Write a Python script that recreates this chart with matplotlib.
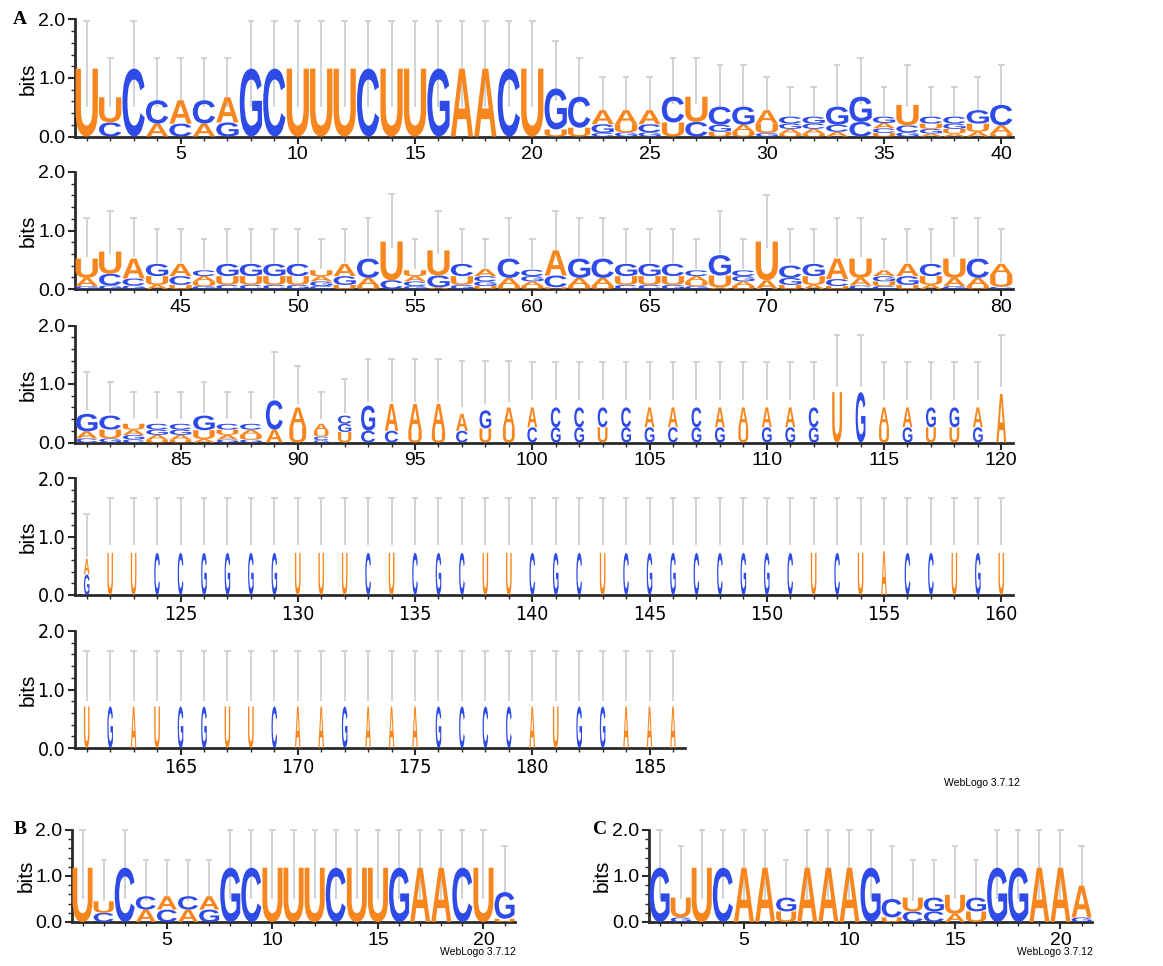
import matplotlib
matplotlib.use("Agg")
import matplotlib.pyplot as plt
from matplotlib.textpath import TextPath
from matplotlib.patches import PathPatch
from matplotlib.font_manager import FontProperties, fontManager
from matplotlib.transforms import Affine2D

# ---------------- data (letters bottom -> top, heights in bits) ----------------
row1_letters = ["U", "CU", "C", "AC", "CA", "AC", "GA", "G", "C", "U", "U", "U", "C", "U", "U", "G", "A", "A", "C", "U",
                "UG", "UC", "CGA", "GUA", "GCA", "UC", "CU", "UGC", "UAG", "GUA", "UAGC", "UACG", "ACG", "CG", "UCAG",
                "GCU", "AGUC", "AUGC", "AUG", "UAC"]
row1_heights = [[1.16], [0.24, 0.43], [1.16], [0.22, 0.40], [0.22, 0.40], [0.22, 0.40], [0.24, 0.43], [1.16], [1.16],
                [1.16], [1.16], [1.16], [1.16], [1.16], [1.16], [1.16], [1.16], [1.16], [1.16], [1.16],
                [0.12, 0.70], [0.15, 0.53], [0.06, 0.15, 0.24], [0.07, 0.14, 0.24], [0.07, 0.14, 0.24], [0.24, 0.44],
                [0.25, 0.43], [0.08, 0.12, 0.31], [0.08, 0.12, 0.31], [0.06, 0.16, 0.23], [0.05, 0.08, 0.09, 0.12],
                [0.05, 0.08, 0.09, 0.12], [0.08, 0.12, 0.31], [0.25, 0.43], [0.06, 0.08, 0.09, 0.11], [0.07, 0.12, 0.35],
                [0.05, 0.08, 0.09, 0.12], [0.05, 0.08, 0.09, 0.12], [0.08, 0.14, 0.23], [0.05, 0.14, 0.35]]
row1_hi = [1.98, 1.34, 1.98, 1.34, 1.34, 1.34, 1.34, 1.98, 1.98, 1.98, 1.98, 1.98, 1.98, 1.98, 1.98, 1.98, 1.98, 1.98,
           1.98, 1.98, 1.63, 1.34, 1.02, 1.02, 1.02, 1.35, 1.35, 1.22, 1.22, 1.02, 0.85, 0.85, 1.22, 1.35, 0.85, 1.22,
           0.85, 0.85, 1.02, 1.22]
row1_lo = [0.5, 0.5, 0.5, 0.5, 0.5, 0.5, 0.5, 0.5, 0.5, 0.5, 0.5, 0.5, 0.5, 0.5, 0.5, 0.5, 0.5, 0.5, 0.5, 0.5,
           0.6, 0.55, 0.4, 0.4, 0.4, 0.55, 0.55, 0.5, 0.5, 0.4, 0.35, 0.35, 0.5, 0.55, 0.35, 0.5, 0.35, 0.35, 0.4, 0.5]

row2_letters = ["GAU", "GCU", "GCA", "AUG", "UCA", "GUAC", "CUG", "CUG", "CUG", "GUC", "CGAU", "UGA", "UAC", "CU",
                "GCAU", "AGU", "GUC", "UGCA", "UAC", "UAGC", "UCA", "UAG", "UAC", "CUG", "CUG", "GUC", "GUAC", "AUG",
                "UAGC", "AU", "UGC", "AUG", "UCA", "CAU", "CUGA", "UGA", "AUC", "GAU", "UAC", "CUA"]
row2_heights = [[0.05, 0.14, 0.33], [0.06, 0.20, 0.38], [0.06, 0.12, 0.34], [0.07, 0.15, 0.21], [0.07, 0.15, 0.21],
                [0.05, 0.08, 0.09, 0.10], [0.07, 0.15, 0.21], [0.07, 0.15, 0.21], [0.07, 0.15, 0.21], [0.07, 0.15, 0.21],
                [0.05, 0.08, 0.09, 0.10], [0.07, 0.15, 0.21], [0.05, 0.14, 0.33], [0.15, 0.66], [0.05, 0.08, 0.09, 0.10],
                [0.03, 0.20, 0.43], [0.07, 0.15, 0.21], [0.05, 0.08, 0.09, 0.12], [0.05, 0.14, 0.33],
                [0.05, 0.08, 0.09, 0.11], [0.03, 0.20, 0.43], [0.05, 0.14, 0.33], [0.05, 0.14, 0.33], [0.07, 0.15, 0.21],
                [0.07, 0.15, 0.21], [0.07, 0.15, 0.21], [0.05, 0.08, 0.09, 0.10], [0.03, 0.20, 0.35],
                [0.05, 0.08, 0.09, 0.10], [0.15, 0.66], [0.07, 0.12, 0.21], [0.07, 0.15, 0.21], [0.05, 0.12, 0.35],
                [0.06, 0.13, 0.33], [0.05, 0.08, 0.09, 0.10], [0.07, 0.15, 0.21], [0.07, 0.15, 0.21], [0.05, 0.14, 0.33],
                [0.05, 0.14, 0.33], [0.04, 0.20, 0.19]]
row2_hi = [1.21, 1.34, 1.21, 1.03, 1.03, 0.85, 1.03, 1.03, 1.03, 1.03, 0.85, 1.03, 1.21, 1.62, 0.85, 1.34, 1.03, 0.85,
           1.21, 0.85, 1.34, 1.21, 1.21, 1.03, 1.03, 1.03, 0.85, 1.34, 0.85, 1.60, 1.03, 1.03, 1.21, 1.21, 0.85, 1.03,
           1.03, 1.21, 1.21, 1.03]
row2_lo = [0.55, 0.6, 0.55, 0.45, 0.45, 0.35, 0.45, 0.45, 0.45, 0.45, 0.35, 0.45, 0.55, 0.7, 0.35, 0.6, 0.45, 0.35,
           0.55, 0.35, 0.6, 0.55, 0.55, 0.45, 0.45, 0.45, 0.35, 0.6, 0.35, 0.7, 0.45, 0.45, 0.55, 0.55, 0.35, 0.45,
           0.45, 0.55, 0.55, 0.45]

row3_letters = ["CAG", "GUC", "CGAU", "UAGC", "UAGC", "AUG", "GAUC", "GUAC", "AC", "UA", "GCUA", "UGC", "CG", "CA",
                "UA", "UA", "CA", "UG", "UA", "CA", "GC", "GC", "UC", "GC", "GA", "CA", "GC", "GA", "UA", "GA", "GA",
                "GC", "U", "G", "UA", "GA", "UG", "UG", "GA", "A"]
row3_heights = [[0.07, 0.12, 0.30], [0.07, 0.15, 0.24], [0.05, 0.08, 0.09, 0.10], [0.05, 0.08, 0.09, 0.10],
                [0.05, 0.08, 0.09, 0.10], [0.06, 0.15, 0.25], [0.05, 0.08, 0.09, 0.10], [0.05, 0.08, 0.09, 0.10],
                [0.22, 0.50], [0.26, 0.34], [0.04, 0.06, 0.10, 0.12], [0.18, 0.14, 0.14], [0.20, 0.43], [0.20, 0.46],
                [0.20, 0.46], [0.20, 0.46], [0.20, 0.29], [0.24, 0.31], [0.26, 0.34], [0.26, 0.34], [0.26, 0.34],
                [0.26, 0.34], [0.26, 0.34], [0.26, 0.34], [0.26, 0.34], [0.26, 0.34], [0.26, 0.34], [0.26, 0.34],
                [0.26, 0.34], [0.26, 0.34], [0.26, 0.34], [0.26, 0.34], [0.86], [0.86], [0.26, 0.34], [0.26, 0.34],
                [0.26, 0.34], [0.26, 0.34], [0.26, 0.34], [0.83]]
row3_width = [0.92, 0.92, 0.92, 0.92, 0.92, 0.92, 0.92, 0.92, 0.72, 0.72, 0.62, 0.57, 0.6, 0.57, 0.57, 0.57, 0.5, 0.5,
              0.5, 0.42, 0.42, 0.42, 0.42, 0.42, 0.42, 0.42, 0.42, 0.42, 0.42, 0.42, 0.42, 0.42, 0.42, 0.42, 0.42,
              0.42, 0.42, 0.42, 0.42, 0.42]
row3_hi = [1.21, 1.03, 0.86, 0.86, 0.86, 1.03, 0.86, 0.86, 1.54, 1.31, 0.86, 1.08, 1.43, 1.43, 1.43, 1.43, 1.39, 1.39,
           1.39, 1.37, 1.37, 1.37, 1.37, 1.37, 1.37, 1.37, 1.37, 1.37, 1.37, 1.37, 1.37, 1.37, 1.83, 1.83, 1.37, 1.37,
           1.37, 1.37, 1.37, 1.83]
row3_lo = [0.55, 0.5, 0.4, 0.4, 0.4, 0.5, 0.4, 0.4, 0.75, 0.65, 0.4, 0.5, 0.7, 0.7, 0.7, 0.7, 0.6, 0.65, 0.7, 0.72,
           0.72, 0.72, 0.72, 0.72, 0.72, 0.72, 0.72, 0.72, 0.72, 0.72, 0.72, 0.72, 0.95, 0.95, 0.72, 0.72, 0.72, 0.72,
           0.72, 0.95]

row4_letters = ["GA"] + list("UUCCGGGGUUUCUCGCUUCGCUCGGCCGGCUCUACCUGU")
row4_heights = [[0.35, 0.27]] + [[h] for h in
                [0.72, 0.72, 0.72, 0.72, 0.72, 0.72, 0.72, 0.72, 0.72, 0.72, 0.72, 0.72, 0.72, 0.72, 0.72, 0.72, 0.72,
                 0.72, 0.72, 0.72, 0.72, 0.72, 0.72, 0.72, 0.72, 0.72, 0.72, 0.72, 0.72, 0.72, 0.72, 0.72, 0.72, 0.75,
                 0.72, 0.72, 0.72, 0.72, 0.72]]
row4_hi = [1.39] + [1.66] * 39
row4_lo = [0.65] + [0.85] * 39

row5_letters = list("UGAUGGUUCAAGAAAGCCCAUGGAAA")
row5_heights = [[h] for h in [0.71, 0.71, 0.71, 0.71, 0.71, 0.71, 0.71, 0.71, 0.71, 0.71, 0.71, 0.71, 0.71, 0.71,
                              0.71, 0.71, 0.71, 0.71, 0.71, 0.71, 0.71, 0.71, 0.71, 0.71, 0.71, 0.71]]
row5_hi = [1.66] * 26
row5_lo = [0.8] * 26

b_letters = ["U", "CU", "C", "AC", "CA", "AC", "GA", "G", "C", "U", "U", "U", "C", "U", "U", "G", "A", "A", "C", "U", "UG"]
b_heights = [[1.18], [0.20, 0.25], [1.18], [0.27, 0.29], [0.27, 0.29], [0.27, 0.29], [0.27, 0.29], [1.18], [1.18],
             [1.18], [1.18], [1.18], [1.18], [1.18], [1.18], [1.18], [1.18], [1.18], [1.18], [1.18], [0.07, 0.58]]
b_hi = [2.0, 1.35, 2.0, 1.35, 1.35, 1.35, 1.35, 2.0, 2.0, 2.0, 2.0, 2.0, 2.0, 2.0, 2.0, 2.0, 2.0, 2.0, 2.0, 2.0, 1.65]
b_lo = [0.5, 0.45, 0.5, 0.45, 0.45, 0.45, 0.45, 0.5, 0.5, 0.5, 0.5, 0.5, 0.5, 0.5, 0.5, 0.5, 0.5, 0.5, 0.5, 0.5, 0.6]

c_letters = ["G", "GU", "U", "C", "A", "A", "UG", "A", "A", "A", "G", "UC", "CU", "CG", "AU", "UG", "G", "G", "A", "A", "GA"]
c_heights = [[1.18], [0.10, 0.43], [1.18], [1.18], [1.18], [1.18], [0.23, 0.30], [1.18], [1.18], [1.18], [1.18],
             [0.10, 0.40], [0.23, 0.30], [0.23, 0.30], [0.18, 0.41], [0.23, 0.30], [1.18], [1.18], [1.18], [1.18],
             [0.10, 0.69]]
c_hi = [2.0, 1.65, 2.0, 2.0, 2.0, 2.0, 1.35, 2.0, 2.0, 2.0, 2.0, 1.65, 1.35, 1.35, 1.65, 1.35, 2.0, 2.0, 2.0, 2.0, 1.65]
c_lo = [0.5, 0.5, 0.5, 0.5, 0.5, 0.5, 0.45, 0.5, 0.5, 0.5, 0.5, 0.5, 0.45, 0.45, 0.5, 0.45, 0.5, 0.5, 0.5, 0.5, 0.6]

# ---------------- style ----------------
W, H = 1163, 966
ORANGE = '#F7861E'
BLUE = '#2E4BE8'
BAR = '#CBD0D3'
AXC = '#2a2a2a'
COLORS = {'A': ORANGE, 'U': ORANGE, 'C': BLUE, 'G': BLUE}

TICKFONT = 'Liberation Sans'
tick_fp = FontProperties(family=TICKFONT, size=14)
# rows 4-5 of panel A have squeezed numbers in the reference; use a narrow face if one exists
narrow_fp = tick_fp
for f in fontManager.ttflist:
    if ('Narrow' in f.name or f.stretch in ('condensed', 'semi-condensed')) and f.weight in (400, 'normal', 'regular') \
            and f.style == 'normal' and ('Liberation' in f.name or 'DejaVu Sans' in f.name):
        narrow_fp = FontProperties(fname=f.fname, size=14)
        break

glyph_font = FontProperties(family='Liberation Sans', weight='bold')

fig = plt.figure(figsize=(W / 100, H / 100), dpi=100)

_cache = {}


def glyph(ch):
    if ch not in _cache:
        p = TextPath((0, 0), ch, size=1, prop=glyph_font)
        _cache[ch] = (p, p.get_extents())
    return _cache[ch]


def draw_logo(ax, first, letters, heights, hi, lo, widths):
    for i, (lets, hs) in enumerate(zip(letters, heights)):
        x = first + i
        w = widths[i] if isinstance(widths, list) else widths
        ax.plot([x, x], [lo[i], hi[i]], color=BAR, lw=1.3, zorder=1, solid_capstyle='butt', clip_on=False)
        ax.plot([x - 0.1, x + 0.1], [hi[i], hi[i]], color=BAR, lw=1.3, zorder=1, clip_on=False)
        y = 0
        for ch, h in zip(lets, hs):
            p, e = glyph(ch)
            tr = Affine2D().translate(-e.x0, -e.y0).scale(w / e.width, h / e.height).translate(x - w / 2, y)
            ax.add_patch(PathPatch(tr.transform_path(p), fc=COLORS[ch], ec='none', lw=0, zorder=3))
            y += h


def make_axes(left, zero, first, n, spacing, height, fp):
    ax = fig.add_axes([left / W, (H - zero) / H, n * spacing / W, height / H])
    ax.set_xlim(first - 0.5, first + n - 0.5)
    ax.set_ylim(0, 2)
    for s in ['top', 'right']:
        ax.spines[s].set_visible(False)
    for s in ['left', 'bottom']:
        ax.spines[s].set_linewidth(2)
        ax.spines[s].set_color(AXC)
    ax.set_xticks([p for p in range(first, first + n) if p % 5 == 0])
    ax.set_xticks(range(first, first + n), minor=True)
    ax.set_yticks([0, 1, 2])
    ax.set_yticklabels(['0.0', '1.0', '2.0'])
    ax.set_yticks([0.2, 0.4, 0.6, 0.8, 1.2, 1.4, 1.6, 1.8], minor=True)
    ax.tick_params(which='major', length=5, width=1.5, color=AXC, pad=2)
    ax.tick_params(which='minor', length=3, width=1, color=AXC)
    for lab in ax.get_xticklabels() + ax.get_yticklabels():
        lab.set_fontproperties(fp)
    return ax


# ---------------- panel A ----------------
spacing = 23.45
zeros = [136.5, 289, 442.5, 595, 748]
rows = [
    (1, row1_letters, row1_heights, row1_hi, row1_lo, 0.95, tick_fp),
    (41, row2_letters, row2_heights, row2_hi, row2_lo, 0.95, tick_fp),
    (81, row3_letters, row3_heights, row3_hi, row3_lo, row3_width, tick_fp),
    (121, row4_letters, row4_heights, row4_hi, row4_lo, 0.24, narrow_fp),
    (161, row5_letters, row5_heights, row5_hi, row5_lo, 0.24, narrow_fp),
]
for z, (first, lets, hs, hi, lo, wd, fp) in zip(zeros, rows):
    ax = make_axes(75, z, first, len(lets), spacing, 117, fp)
    draw_logo(ax, first, lets, hs, hi, lo, wd)
    fig.text(28 / W, 1 - (z - 58) / H, 'bits', rotation=90, ha='center', va='center', fontsize=15,
             family=TICKFONT)

fig.text(20 / W, 1 - 19 / H, 'A', ha='center', va='center', fontsize=14, fontweight='bold',
         family='Liberation Serif')
fig.text(1020 / W, 1 - 783 / H, 'WebLogo 3.7.12', ha='right', va='center', fontsize=7.5, family=TICKFONT)

# ---------------- panels B and C ----------------
sp_bc = 21.1
axb = make_axes(72, 922, 1, 21, sp_bc, 92, tick_fp)
draw_logo(axb, 1, b_letters, b_heights, b_hi, b_lo, 0.95)
axc = make_axes(649, 922, 1, 21, sp_bc, 92, tick_fp)
draw_logo(axc, 1, c_letters, c_heights, c_hi, c_lo, 0.95)

fig.text(26 / W, 1 - 876 / H, 'bits', rotation=90, ha='center', va='center', fontsize=15, family=TICKFONT)
fig.text(602 / W, 1 - 876 / H, 'bits', rotation=90, ha='center', va='center', fontsize=15, family=TICKFONT)
fig.text(20 / W, 1 - 830 / H, 'B', ha='center', va='center', fontsize=14, fontweight='bold', family='Liberation Serif')
fig.text(600 / W, 1 - 830 / H, 'C', ha='center', va='center', fontsize=14, fontweight='bold', family='Liberation Serif')
fig.text(516 / W, 1 - 952 / H, 'WebLogo 3.7.12', ha='right', va='center', fontsize=7.5, family=TICKFONT)
fig.text(1093 / W, 1 - 952 / H, 'WebLogo 3.7.12', ha='right', va='center', fontsize=7.5, family=TICKFONT)

fig.savefig('out.png', dpi=100)
